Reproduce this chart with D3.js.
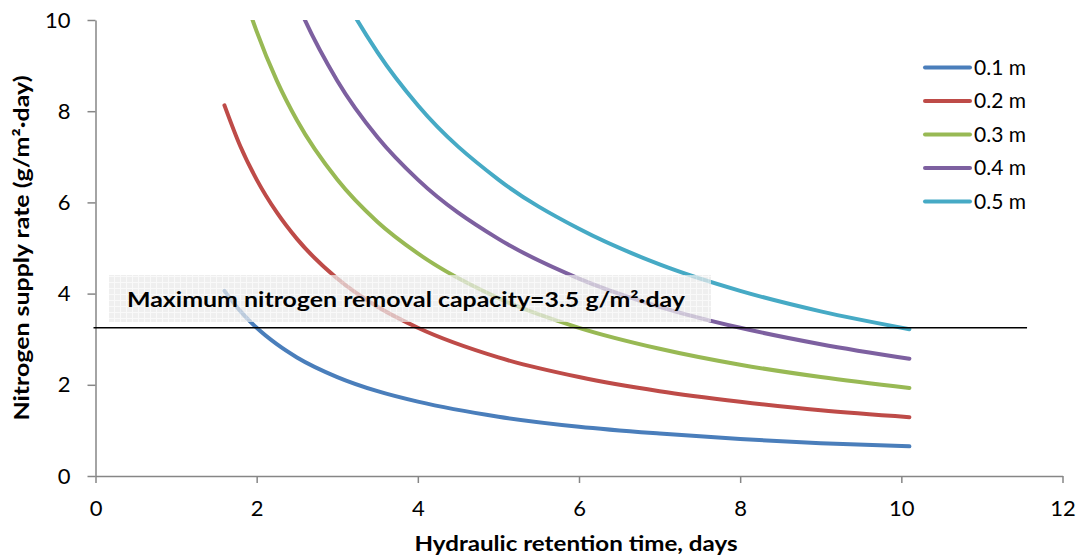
<!DOCTYPE html>
<html>
<head>
<meta charset="utf-8">
<script src="https://cdn.jsdelivr.net/npm/d3@7"></script>
<style>
  body { margin: 0; background: #fff; }
  svg { display: block; font-family: Lato, "Open Sans", sans-serif; }
</style>
</head>
<body>
<div id="output"></div>
<script>
var w = 1083;
var h = 560;

// hydraulic retention time, days (x values shared by all series)
var days = [1.6, 1.8, 2, 2.25, 2.5, 3, 3.5, 4, 5, 6, 7, 8, 9, 10.1];
// nitrogen supply rate, g/m2 day, one list per depth (values above 10 run off the top)
var depth01 = [4.06, 3.61, 3.25, 2.89, 2.6, 2.17, 1.86, 1.63, 1.3, 1.08, 0.93, 0.81, 0.72, 0.65];
var depth02 = [8.13, 7.22, 6.5, 5.78, 5.2, 4.33, 3.71, 3.25, 2.6, 2.17, 1.86, 1.63, 1.44, 1.29];
var depth03 = [12.2, 10.8, 9.75, 8.67, 7.8, 6.5, 5.57, 4.88, 3.9, 3.25, 2.79, 2.44, 2.17, 1.93];
var depth04 = [16.3, 14.4, 13.0, 11.6, 10.4, 8.67, 7.43, 6.5, 5.2, 4.33, 3.71, 3.25, 2.89, 2.57];
var depth05 = [20.3, 18.1, 16.3, 14.4, 13.0, 10.8, 9.29, 8.13, 6.5, 5.42, 4.64, 4.06, 3.61, 3.22];
var seriesNames = ['0.1 m', '0.2 m', '0.3 m', '0.4 m', '0.5 m'];
var seriesColors = ['#4a7ebb', '#be4b48', '#98b954', '#7d60a0', '#46aac5'];
var xTicks = [0, 2, 4, 6, 8, 10, 12];
var yTicks = [0, 2, 4, 6, 8, 10];
var capacityLevel = 3.25;
var capacityLabel = 'Maximum nitrogen removal capacity=3.5 g/m\u00b2\u00b7day';

var allSeries = [depth01, depth02, depth03, depth04, depth05];

// plot area edges (not called "top": that name is taken by window.top)
var plotL = 95.5, plotR = 1062.5, plotT = 20, plotB = 476;

var x = d3.scaleLinear().domain([0, 12]).range([plotL, plotR]);
var y = d3.scaleLinear().domain([0, 10]).range([plotB, plotT]);

var svg = d3.select('#output').append('svg')
  .attr('width', w)
  .attr('height', h);

var defs = svg.append('defs');
defs.append('clipPath').attr('id', 'plot')
  .append('rect')
  .attr('x', plotL).attr('y', plotT)
  .attr('width', plotR - plotL).attr('height', plotB - plotT);

// grid-like texture of the annotation box
var pat = defs.append('pattern').attr('id', 'grain')
  .attr('width', 6).attr('height', 6)
  .attr('patternUnits', 'userSpaceOnUse');
pat.append('rect').attr('width', 6).attr('height', 6).attr('fill', '#e9e9e9');
pat.append('path').attr('d', 'M0 0.5H6M0.5 0V6').attr('stroke', '#f6f6f6').attr('stroke-width', 1);

// axes
var xAxis = svg.append('g')
  .attr('transform', 'translate(0,' + plotB + ')')
  .call(d3.axisBottom(x).tickValues(xTicks).tickSize(7).tickSizeOuter(0).tickPadding(17));
var yAxis = svg.append('g')
  .attr('transform', 'translate(' + plotL + ',0)')
  .call(d3.axisLeft(y).tickValues(yTicks).tickSize(8).tickSizeOuter(0).tickPadding(17));

[xAxis, yAxis].forEach(function(a) {
  a.select('.domain').attr('stroke', '#868686').attr('stroke-width', 1.5);
  a.selectAll('.tick line').attr('stroke', '#868686').attr('stroke-width', 1.5);
  a.selectAll('.tick text').attr('fill', '#000').style('font-size', '22px')
    .style('font-family', 'Lato, "Open Sans", sans-serif');
});

// series lines
var line = d3.line()
  .x(function(d, i) { return x(days[i]); })
  .y(function(d) { return y(d); })
  .curve(d3.curveMonotoneX);

svg.append('g').attr('clip-path', 'url(#plot)')
  .selectAll('path')
  .data(allSeries)
  .enter()
  .append('path')
  .attr('d', line)
  .attr('fill', 'none')
  .attr('stroke', function(d, i) { return seriesColors[i]; })
  .attr('stroke-width', 4)
  .attr('stroke-linecap', 'round');

// capacity line
svg.append('line')
  .attr('x1', plotL - 2).attr('x2', x(11.56))
  .attr('y1', y(capacityLevel)).attr('y2', y(capacityLevel))
  .attr('stroke', '#000').attr('stroke-width', 1.5);

// annotation box (semi see-through, sits over the curves)
svg.append('rect')
  .attr('x', 109).attr('y', 275)
  .attr('width', 602).attr('height', 47)
  .attr('fill', 'url(#grain)')
  .attr('opacity', 0.72);

svg.append('text')
  .attr('x', 127).attr('y', 307)
  .attr('font-weight', 'bold')
  .attr('font-size', '21px')
  .attr('textLength', 558)
  .attr('lengthAdjust', 'spacingAndGlyphs')
  .text(capacityLabel);

// legend
var legend = svg.append('g').selectAll('g')
  .data(seriesNames)
  .enter()
  .append('g')
  .attr('transform', function(d, i) { return 'translate(925,' + (67.5 + i * 33.5) + ')'; });
legend.append('line')
  .attr('x1', 0).attr('x2', 45)
  .attr('stroke', function(d, i) { return seriesColors[i]; })
  .attr('stroke-width', 4)
  .attr('stroke-linecap', 'round');
legend.append('text')
  .attr('x', 49).attr('dy', '0.35em')
  .attr('font-size', '21px')
  .text(function(d) { return d; });

// axis titles
svg.append('text')
  .attr('x', 576).attr('y', 551)
  .attr('text-anchor', 'middle')
  .attr('font-weight', 'bold')
  .attr('font-size', '21px')
  .attr('textLength', 323)
  .attr('lengthAdjust', 'spacingAndGlyphs')
  .text('Hydraulic retention time, days');

svg.append('text')
  .attr('transform', 'translate(29,248) rotate(-90)')
  .attr('text-anchor', 'middle')
  .attr('font-weight', 'bold')
  .attr('font-size', '21px')
  .attr('textLength', 345)
  .attr('lengthAdjust', 'spacingAndGlyphs')
  .text('Nitrogen supply rate (g/m\u00b2\u00b7day)');
</script>
</body>
</html>
